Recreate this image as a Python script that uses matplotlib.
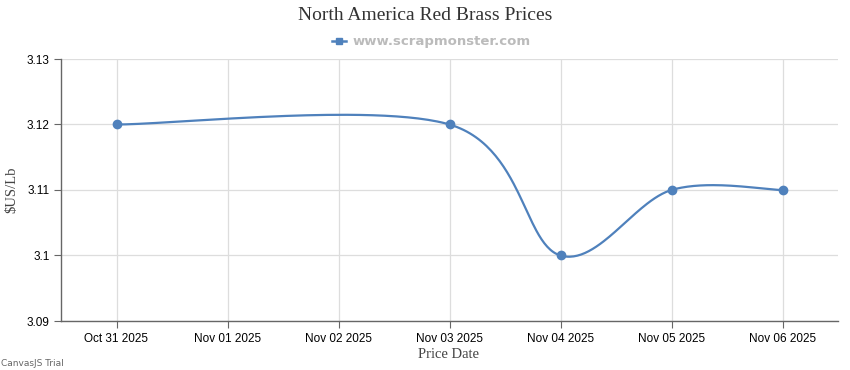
import numpy as np
import pandas as pd
import matplotlib
matplotlib.use("Agg")
import matplotlib.pyplot as plt
import matplotlib.dates as mdates
from matplotlib.ticker import FuncFormatter

# Data
price_dates = ["2025-10-31", "2025-11-03", "2025-11-04", "2025-11-05", "2025-11-06"]
prices = [3.12, 3.12, 3.10, 3.11, 3.11]
tick_dates = ["2025-10-31", "2025-11-01", "2025-11-02", "2025-11-03",
              "2025-11-04", "2025-11-05", "2025-11-06"]
y_ticks = [3.09, 3.10, 3.11, 3.12, 3.13]

line_color = "#4F81BC"


def spline(xs, ys, n=60):
    # cardinal (catmull-rom) spline like CanvasJS draws it
    xs = np.asarray(xs, float)
    ys = np.asarray(ys, float)
    out_x, out_y = [], []
    last = len(xs) - 1
    for i in range(last):
        a, b = max(i - 1, 0), i + 1
        c, d = i, min(i + 2, last)
        p0 = np.array([xs[i], ys[i]])
        p3 = np.array([xs[i + 1], ys[i + 1]])
        p1 = p0 + (np.array([xs[b], ys[b]]) - np.array([xs[a], ys[a]])) / 6
        p2 = p3 - (np.array([xs[d], ys[d]]) - np.array([xs[c], ys[c]])) / 6
        t = np.linspace(0, 1, n)[:, None]
        pts = ((1 - t) ** 3) * p0 + 3 * ((1 - t) ** 2) * t * p1 + 3 * (1 - t) * t ** 2 * p2 + t ** 3 * p3
        out_x.extend(pts[:, 0])
        out_y.extend(pts[:, 1])
    return out_x, out_y


x = mdates.date2num(pd.to_datetime(price_dates).to_pydatetime())
xt = mdates.date2num(pd.to_datetime(tick_dates).to_pydatetime())

fig = plt.figure(figsize=(8.5, 3.7), dpi=100)
ax = fig.add_axes([61 / 850, 49 / 370, 777 / 850, 262 / 370])

sx, sy = spline(x, prices)
ax.plot(sx, sy, color=line_color, lw=1.6, zorder=3)
ax.plot(x, prices, "o", color=line_color, ms=6, zorder=4)

ax.set_xlim(xt[0] - 0.5, xt[-1] + 0.5)
ax.set_ylim(3.09, 3.13)
ax.set_xticks(xt)
ax.set_xticklabels(pd.to_datetime(tick_dates).strftime("%b %d %Y"))
ax.set_yticks(y_ticks)
ax.yaxis.set_major_formatter(FuncFormatter(lambda v, p: f"{v:g}"))

ax.grid(True, color="#dddddd", lw=0.9)
ax.set_axisbelow(True)
for s in ["top", "right"]:
    ax.spines[s].set_visible(False)
for s in ["left", "bottom"]:
    ax.spines[s].set_color("#666666")
    ax.spines[s].set_linewidth(1.0)
ax.tick_params(axis="both", length=5, color="#666666", labelsize=8.5,
               labelcolor="#000000")
ax.tick_params(axis="y", pad=3)
ax.tick_params(axis="x", pad=3.5)
for lab in ax.get_xticklabels() + ax.get_yticklabels():
    lab.set_family("Liberation Sans")

fig.text(449 / 850, 1 - 354 / 370, "Price Date", family="Liberation Serif",
         fontsize=10.5, color="#444444", ha="center", va="center")
fig.text(12 / 850, 1 - 190 / 370, "$US/Lb", family="Liberation Serif",
         fontsize=10.5, color="#444444", ha="center", va="center",
         rotation=90, parse_math=False)

fig.text(425 / 850, 1 - 16 / 370, "North America Red Brass Prices",
         family="Liberation Serif", fontsize=14, color="#333333",
         ha="center", va="center")
# legend
fig.lines.append(plt.Line2D([332 / 850, 346 / 850], [1 - 41 / 370] * 2,
                            transform=fig.transFigure, color=line_color, lw=1.8))
fig.lines.append(plt.Line2D([339 / 850], [1 - 41 / 370], transform=fig.transFigure,
                            color=line_color, marker="s", ms=4.5))
fig.text(353 / 850, 1 - 41 / 370, "www.scrapmonster.com", fontsize=9.5,
         fontweight="bold", color="#bbbbbb", ha="left", va="center")

fig.text(1 / 850, 1 - 364 / 370, "CanvasJS Trial", fontsize=6.5,
         color="#666666", ha="left", va="center")

fig.savefig("out.png", dpi=100)
